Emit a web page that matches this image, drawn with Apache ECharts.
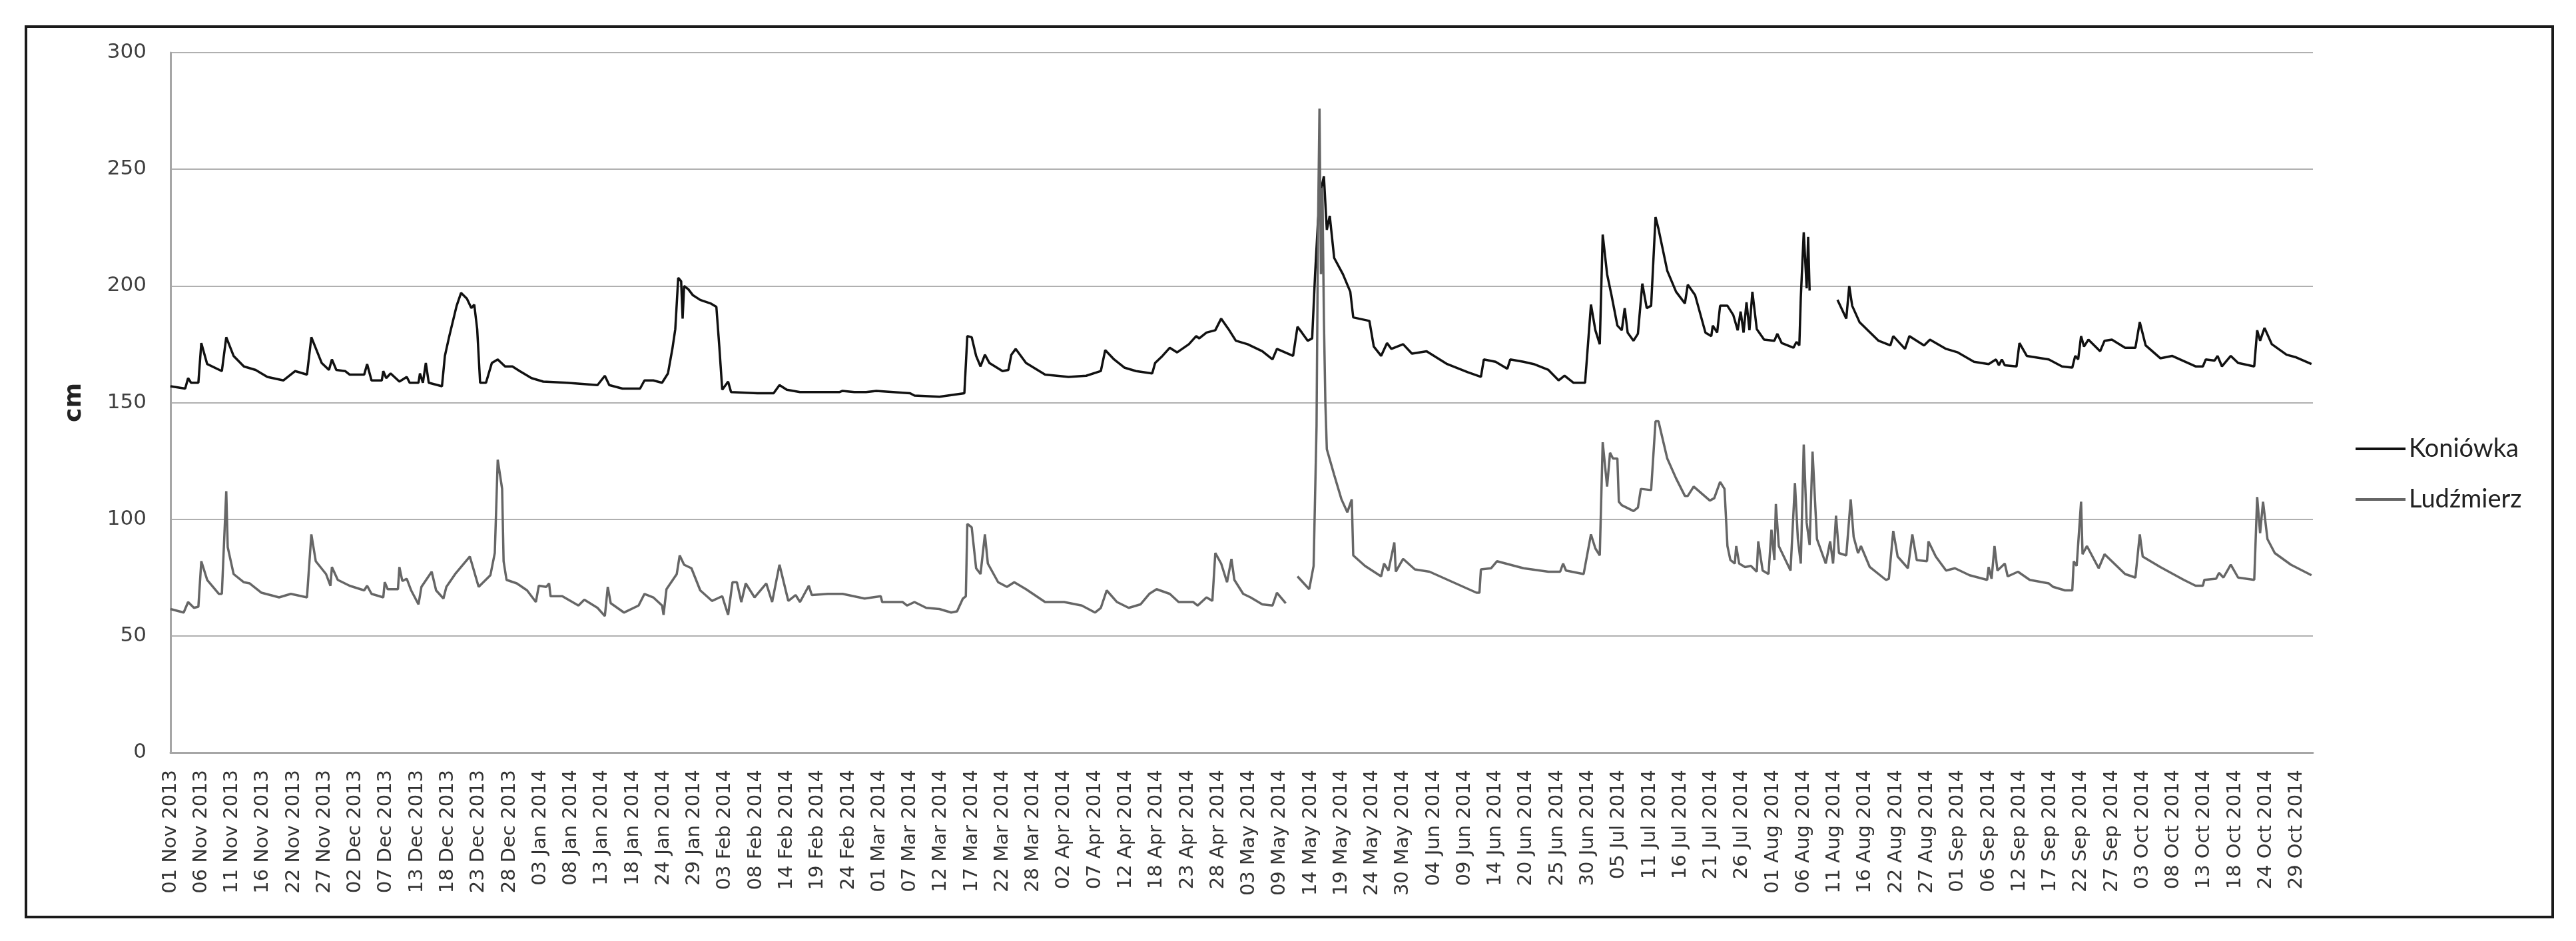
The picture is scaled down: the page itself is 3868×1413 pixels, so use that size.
<!DOCTYPE html>
<html>
<head>
<meta charset="utf-8">
<title>Koniówka / Ludźmierz</title>
<script src="https://cdn.jsdelivr.net/npm/echarts@6/dist/echarts.min.js"></script>
<style>
html, body {margin: 0; padding: 0; background: #fff;}
#chart {width: 3868px; height: 1413px;}
</style>
</head>
<body>
<div id="chart"></div>
<script>
// stan wody, dni liczone od 01 Nov 2013 (krok 6 h)
var konDay = [
	0, 2.5, 3, 3.5, 4.75, 5.25, 6.25, 8.75, 9.5, 10.75,
	12.5, 14.5, 16.5, 19.25, 21.25, 23.25, 24, 25.75, 27, 27.5,
	28.25, 29.75, 30.5, 33, 33.5, 34.25, 36, 36.25, 36.75, 37.5,
	39, 40.25, 40.75, 42.25, 42.5, 43, 43.5, 44, 46.25, 46.75,
	47.5, 48.75, 49.5, 50.5, 51.25, 51.75, 52.25, 52.75, 53.75, 54.75,
	55.75, 57, 58.25, 59.5, 61.5, 63.5, 67.5, 72.75, 74, 74.75,
	77, 80, 80.75, 82.25, 83.75, 84.75, 85.5, 86, 86.5, 87,
	87.25, 87.5, 88.25, 89, 90.25, 92, 93, 93.5, 94, 95,
	95.5, 100, 102.75, 103.75, 105, 107.25, 114, 114.5, 116.5, 118.5,
	120.25, 126, 126.75, 131, 135.25, 135.75, 136.5, 137.25, 138, 138.75,
	139.5, 141.75, 142.75, 143.25, 144, 145.75, 149, 153, 156, 158.5,
	159.25, 160.75, 162.5, 164.5, 167.25, 167.75, 169, 170.25, 171.5, 173.5,
	174.75, 175.25, 176.5, 178, 179, 180.25, 181.5, 183.5, 186, 187.75,
	188.5, 191.25, 192, 192.75, 193.75, 194.5, 195, 195.5, 196, 196.5,
	197, 197.5, 198.25, 199.75, 201, 201.5, 204.25, 205, 206.25, 207.25,
	208, 210, 211.5, 214, 217.5, 221, 223.25, 223.75, 225.75, 227.75,
	228.25, 230.5, 232.25, 234.75, 236.5, 237.5, 239, 241, 242, 242.75,
	243.5, 244, 244.75, 245.5, 246.5, 247.25, 247.75, 248.25, 249.25, 250,
	250.75, 251.5, 252.25, 253, 253.5, 255, 256.5, 258, 258.5, 259.75,
	261.5, 262.5, 262.75, 263.5, 264, 265.25, 266.25, 267, 267.5, 268,
	268.5, 269, 269.5, 270.25, 271.5, 273.25, 273.75, 274.5, 276.5, 277,
	277.5, 277.75, 278.25, 278.75, 279, 279.25, 281, 284, 285.5, 286,
	286.5, 287.75, 291, 293, 293.5, 295.5, 296.25, 298.75, 299.75, 302.5,
	304.5, 307.25, 309.75, 311, 311.5, 312, 312.5, 314.5, 315, 316.25,
	320, 322.25, 324, 324.5, 325, 325.5, 326, 326.75, 328.75, 329.5,
	330.75, 333, 334.75, 335.5, 336.5, 339, 341, 345, 346.25, 346.75,
	348.25, 348.75, 349.5, 351, 352.25, 355, 355.5, 356, 356.75, 358,
	360.5, 362, 364.75
];
var konCm = [
	157, 156, 160.5, 158.5, 158.5, 175.5, 166.5, 163.5, 178, 170,
	165.5, 164, 161, 159.5, 163.5, 162, 178, 167, 164, 168.5,
	164, 163.5, 162, 162, 166.5, 159.5, 159.5, 163.5, 160.5, 162.5,
	159, 161, 158.5, 158.5, 162.5, 158.5, 167, 158.5, 157, 170,
	178.5, 191.5, 197, 194.5, 190.5, 192, 181.5, 158.5, 158.5, 167,
	168.5, 165.5, 165.5, 163.5, 160.5, 159, 158.5, 157.5, 161.5, 157.5,
	156, 156, 159.5, 159.5, 158.5, 162.5, 173, 181.5, 203.5, 202,
	186, 200, 198.5, 196, 194, 192.5, 191, 174, 155.5, 159,
	154.5, 154, 154, 157.5, 155.5, 154.5, 154.5, 155, 154.5, 154.5,
	155, 154, 153, 152.5, 154, 178.5, 178, 170, 165.5, 170.5,
	167, 163.5, 164, 170.5, 173, 167, 162, 161, 161.5, 163.5,
	172.5, 168.5, 165, 163.5, 162.5, 167, 170, 173.5, 171.5, 175,
	178.5, 177.5, 180, 181, 186, 181.5, 176.5, 175, 172, 168.5,
	173, 170, 182.5, 180, 176.5, 177.5, 205, 228, 241, 247,
	224, 230, 212, 205, 197.5, 186.5, 185, 174, 170, 175.5,
	173, 175, 171, 172, 166.5, 163, 161, 168.5, 167.5, 164.5,
	168.5, 167.5, 166.5, 164, 159.5, 161.5, 158.5, 158.5, 192, 181,
	175, 222, 205, 196, 183, 181, 190.5, 180, 176.5, 179.5,
	201, 190.5, 191.5, 229.5, 224.5, 206.5, 197.5, 192.5, 200.5, 196,
	180, 178.5, 183, 180, 191.5, 191.5, 187.5, 181, 189, 180,
	193, 181, 197.5, 181.5, 177, 176.5, 179.5, 175.5, 173.5, 176,
	174.5, 195, 223, 199, 221, 198, null, 194, 186, 200,
	191.5, 184.5, 176.5, 174.5, 178.5, 173, 178.5, 174.5, 177, 173,
	171.5, 167.5, 166.5, 168.5, 166, 168.5, 166, 165.5, 175.5, 170,
	168.5, 165.5, 165, 170, 168.5, 178.5, 174, 177, 172, 176.5,
	177, 173.5, 173.5, 184.5, 174.5, 169, 170, 165.5, 165.5, 168.5,
	168, 170, 165.5, 170, 167, 165.5, 181, 176.5, 182, 175,
	170.5, 169.5, 166.5
];

var ludDay = [
	0, 2.25, 3, 4, 4.75, 5.25, 5.75, 6.25, 8.25, 8.75,
	9.5, 9.75, 10.75, 12.5, 13.5, 15.5, 18.5, 20.5, 23.25, 24,
	24.75, 26.5, 27.25, 27.5, 28.5, 30.5, 33, 33.5, 34.25, 36.25,
	36.5, 37, 38.75, 39, 39.5, 40.25, 41, 42.25, 42.75, 44.5,
	45.25, 46.5, 47, 48.5, 49.5, 51, 52.5, 54.5, 55.25, 55.75,
	56.5, 56.75, 57.25, 59, 60.75, 62.25, 62.75, 64, 64.5, 64.75,
	66.75, 69.5, 70.5, 72.75, 74, 74.5, 75, 77.25, 79.75, 80.75,
	82.25, 83.75, 84, 84.5, 86.25, 86.75, 87.5, 88.75, 90.25, 92.25,
	94, 95, 95.75, 96.5, 97.25, 98, 99.5, 101.5, 102.5, 103.75,
	105.25, 106.5, 107.25, 108.75, 109.25, 112, 114.5, 118.25, 121, 121.25,
	124.75, 125.5, 126.75, 128.75, 131, 133, 134, 135, 135.5, 135.75,
	136.5, 137.25, 138, 138.75, 139.25, 141, 142.5, 143.75, 145.75, 149,
	152.25, 155.25, 157.5, 158.5, 159.5, 161.25, 163.25, 165.25, 166.75, 168,
	170.25, 171.75, 174.25, 175, 176.5, 177.5, 178, 179, 180, 180.75,
	181.25, 182.75, 184, 186, 187.75, 188.5, 190, 191, 192, 194,
	194.75, 195.25, 195.5, 195.75, 196, 196.25, 196.5, 196.75, 197, 198.25,
	199.5, 200.5, 201.25, 201.5, 203.5, 206.25, 206.75, 207.5, 208.5, 208.75,
	210, 212, 214.5, 218.5, 222.5, 223, 223.25, 225, 226, 230.5,
	234.75, 236.75, 237.25, 237.75, 240.75, 242, 242.75, 243.5, 244, 244.75,
	245.25, 245.75, 246.5, 246.75, 247.25, 249.25, 250, 250.5, 252.25, 253,
	253.5, 255, 256.5, 258, 258.5, 259.5, 262.25, 263, 264, 264.75,
	265.25, 265.75, 266.5, 266.75, 267.25, 268.25, 269.25, 270.25, 270.5, 271.25,
	272.25, 272.75, 273.25, 273.5, 274, 276, 276.75, 277.25, 277.75, 278.25,
	278.75, 279.25, 279.75, 280.5, 282, 282.75, 283.25, 283.75, 284.25, 285.5,
	286.25, 286.75, 287.5, 288, 289.5, 292.25, 292.75, 293.5, 294.25, 296,
	296.75, 297.5, 299.25, 299.5, 300.75, 302.5, 304, 306.5, 309.5, 309.75,
	310.25, 310.75, 311.25, 312.5, 313, 314.75, 316.75, 320, 320.75, 322.75,
	324, 324.25, 324.75, 325.5, 325.75, 326.5, 328.5, 329.5, 333, 334.75,
	335.5, 336, 339, 343, 345, 346.25, 346.5, 348.5, 349, 349.75,
	351, 352.25, 355, 355.5, 356, 356.5, 357.25, 358.5, 361.25, 364.75
];
var ludCm = [
	61.5, 60, 64.5, 62, 62.5, 82, 78, 74, 68, 68,
	112, 88, 76.5, 73, 72.5, 68.5, 66.5, 68, 66.5, 93.5,
	82, 76.5, 71.5, 79.5, 74, 71.5, 69.5, 71.5, 68, 66.5,
	73, 70, 70, 79.5, 73.5, 74.5, 69.5, 63.5, 71, 77.5,
	69.5, 66, 71, 76.5, 79.5, 84, 71, 76, 85.5, 125.5,
	113, 82, 74, 72.5, 69.5, 64.5, 71.5, 71, 72.5, 67,
	67, 63, 65.5, 62, 58.5, 71, 64, 60, 63, 68,
	66.5, 63, 59, 70, 76.5, 84.5, 80.5, 79, 69.5, 65,
	67, 59, 73, 73, 64.5, 72.5, 66.5, 72.5, 64.5, 80.5,
	65, 67.5, 64.5, 71.5, 67.5, 68, 68, 66, 67, 64.5,
	64.5, 63, 64.5, 62, 61.5, 60, 60.5, 66, 67, 98,
	96.5, 79, 76.5, 93.5, 81, 73, 71, 73, 70, 64.5,
	64.5, 63, 60, 62, 69.5, 64.5, 62, 63.5, 68, 70,
	68, 64.5, 64.5, 63, 66.5, 65, 85.5, 81, 73, 83,
	74, 68, 66.5, 63.5, 63, 68.5, 64, null, 75.5, 70,
	80, 140, 225, 276, 205, 242, 186, 150, 130, 119,
	108.5, 103, 108.5, 84.5, 80, 75.5, 81, 78, 90, 77.5,
	83, 78.5, 77.5, 73, 68.5, 68.5, 78.5, 79, 82, 79,
	77.5, 77.5, 81, 78, 76.5, 93.5, 87.5, 84.5, 133, 114,
	128.5, 126, 126, 107.5, 106, 103.5, 105, 113, 112.5, 142,
	142, 126, 117.5, 110, 110, 114, 108, 109, 116, 113,
	88.5, 82.5, 81, 88.5, 81, 79.5, 80, 77.5, 90.5, 78,
	76.5, 95.5, 82.5, 106.5, 88.5, 78, 115.5, 91.5, 81, 132,
	98.5, 89, 129, 91.5, 81, 90.5, 81, 101.5, 85.5, 84.5,
	108.5, 92.5, 85.5, 88.5, 79.5, 74, 74.5, 95, 84, 79,
	93.5, 82.5, 82, 90.5, 84, 78, 79, 76, 74, 79.5,
	74.5, 88.5, 78, 81, 75.5, 77.5, 74, 72.5, 71, 69.5,
	69.5, 82, 80, 107.5, 85, 88.5, 79, 85, 76.5, 75,
	93.5, 84, 79.5, 74, 71.5, 71.5, 74, 74.5, 77, 75,
	80.5, 75, 74, 109.5, 94, 107.5, 91.5, 85.5, 80.5, 76
];

// etykiety osi X co 21 pomiarow (5.25 dnia)
var xLabels = [
	'01 Nov 2013', '06 Nov 2013', '11 Nov 2013', '16 Nov 2013', '22 Nov 2013', '27 Nov 2013',
	'02 Dec 2013', '07 Dec 2013', '13 Dec 2013', '18 Dec 2013', '23 Dec 2013', '28 Dec 2013',
	'03 Jan 2014', '08 Jan 2014', '13 Jan 2014', '18 Jan 2014', '24 Jan 2014', '29 Jan 2014',
	'03 Feb 2014', '08 Feb 2014', '14 Feb 2014', '19 Feb 2014', '24 Feb 2014',
	'01 Mar 2014', '07 Mar 2014', '12 Mar 2014', '17 Mar 2014', '22 Mar 2014', '28 Mar 2014',
	'02 Apr 2014', '07 Apr 2014', '12 Apr 2014', '18 Apr 2014', '23 Apr 2014', '28 Apr 2014',
	'03 May 2014', '09 May 2014', '14 May 2014', '19 May 2014', '24 May 2014', '30 May 2014',
	'04 Jun 2014', '09 Jun 2014', '14 Jun 2014', '20 Jun 2014', '25 Jun 2014', '30 Jun 2014',
	'05 Jul 2014', '11 Jul 2014', '16 Jul 2014', '21 Jul 2014', '26 Jul 2014',
	'01 Aug 2014', '06 Aug 2014', '11 Aug 2014', '16 Aug 2014', '22 Aug 2014', '27 Aug 2014',
	'01 Sep 2014', '06 Sep 2014', '12 Sep 2014', '17 Sep 2014', '22 Sep 2014', '27 Sep 2014',
	'03 Oct 2014', '08 Oct 2014', '13 Oct 2014', '18 Oct 2014', '24 Oct 2014', '29 Oct 2014'
];
var labelStep = 5.25;
var yTicks = [0, 50, 100, 150, 200, 250, 300];

// pary [dzien, cm], null -> przerwa w linii
function toPairs(dayArr, valArr) {
	var out = [];
	for (var i = 0; i < dayArr.length; i++) {
		out.push([dayArr[i], valArr[i] == null ? '-' : valArr[i]]);
	}
	return out;
}

var option = {
	animation: false,
	backgroundColor: '#ffffff',
	graphic: [
		{type: 'rect', silent: true, shape: {x: 39, y: 40, width: 3794, height: 1337},
			style: {fill: 'none', stroke: '#1a1a1a', lineWidth: 4}}
	],
	legend: {
		orient: 'vertical',
		left: 3532,
		top: 649,
		icon: 'rect',
		itemWidth: 75,
		itemHeight: 4,
		itemGap: 36,
		textStyle: {fontFamily: 'Lato', fontSize: 38, color: '#222', lineHeight: 40},
		data: ['Koniówka', 'Ludźmierz']
	},
	grid: {left: 256, right: 395, top: 79, bottom: 283, containLabel: false, outerBoundsMode: 'none'},
	xAxis: {
		type: 'value',
		min: 0,
		max: 365,
		interval: labelStep,
		axisLine: {show: true, lineStyle: {color: '#a6a6a6', width: 3}},
		axisTick: {show: false},
		splitLine: {show: false},
		axisLabel: {
			rotate: 90,
			margin: 26,
			fontFamily: 'DejaVu Sans',
			fontSize: 29,
			color: '#333',
			showMaxLabel: false,
			formatter: function (v) {
				var k = Math.round(v / labelStep);
				return xLabels[k] || '';
			}
		}
	},
	yAxis: {
		type: 'value',
		min: yTicks[0],
		max: yTicks[yTicks.length - 1],
		interval: 50,
		name: 'cm',
		nameLocation: 'middle',
		nameRotate: 90,
		nameGap: 126,
		nameTextStyle: {fontFamily: 'DejaVu Sans', fontWeight: 'bold', fontSize: 36, color: '#222'},
		axisLine: {show: true, lineStyle: {color: '#a6a6a6', width: 3}},
		axisTick: {show: false},
		splitLine: {show: true, lineStyle: {color: '#b0b0b0', width: 2}},
		axisLabel: {margin: 36, fontFamily: 'DejaVu Sans', fontSize: 31, color: '#404040'}
	},
	series: [
		{
			name: 'Koniówka',
			type: 'line',
			symbol: 'none',
			showSymbol: false,
			connectNulls: false,
			lineStyle: {color: '#111111', width: 3.5},
			itemStyle: {color: '#111111'},
			data: toPairs(konDay, konCm)
		},
		{
			name: 'Ludźmierz',
			type: 'line',
			symbol: 'none',
			showSymbol: false,
			connectNulls: false,
			lineStyle: {color: '#666666', width: 3.5},
			itemStyle: {color: '#666666'},
			data: toPairs(ludDay, ludCm)
		}
	]
};

var myChart = echarts.init(document.getElementById('chart'));
myChart.setOption(option);//rysowanie wykresu
</script>
</body>
</html>
